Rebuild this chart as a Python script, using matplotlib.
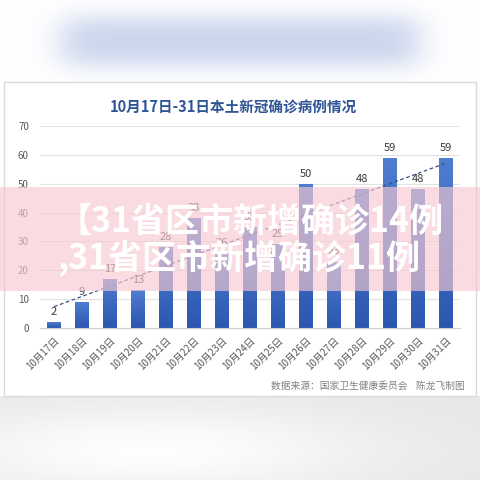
import numpy as np
import matplotlib.pyplot as plt
from matplotlib.patches import Rectangle
from matplotlib.colors import LinearSegmentedColormap

plt.rcParams['font.family'] = ['Noto Sans CJK SC', 'DejaVu Sans']

# data
dates = ['10月17日', '10月18日', '10月19日', '10月20日', '10月21日', '10月22日',
         '10月23日', '10月24日', '10月25日', '10月26日', '10月27日', '10月28日',
         '10月29日', '10月30日', '10月31日']
cases = [2, 9, 17, 13, 28, 38, 26, 35, 29, 50, 23, 48, 59, 48, 59]
yticks = [0, 10, 20, 30, 40, 50, 60, 70]
title = '10月17日-31日本土新冠确诊病例情况'
source = '数据来源：国家卫生健康委员会    陈龙飞制图'
banner_lines = ['【31省区市新增确诊14例', ',31省区市新增确诊11例']

W = H = 480
fig = plt.figure(figsize=(4.8, 4.8), dpi=100)

# screenshot background: blurred blue header, grey bottom
yy, xx = np.mgrid[0:H, 0:W]


def soft(v, a, b, s):
    return 1 / (1 + np.exp(-(v - a) / s)) / (1 + np.exp((v - b) / s))


bg = np.ones((H, W, 3))
blob = soft(xx, 62, 418, 10) * soft(yy, 18, 64, 7)
blue = np.array([200, 211, 236]) / 255
bg = bg * (1 - blob[..., None]) + blue * blob[..., None]
grey = 0.905 + 0.09 * np.exp(-((xx - 150) / 230) ** 2 - ((yy - 450) / 45) ** 2)
low = yy >= 396
bg[low] = grey[low][:, None]

bg_ax = fig.add_axes([0, 0, 1, 1])
bg_ax.imshow(bg, extent=[0, W, H, 0], interpolation='bilinear')
bg_ax.add_patch(Rectangle((4, 82), 472, 314, facecolor='white', edgecolor='#DADADA', lw=1))
bg_ax.set_xlim(0, W)
bg_ax.set_ylim(H, 0)
bg_ax.axis('off')

# chart
ax = fig.add_axes([40 / W, 1 - 328 / H, 420 / W, 202 / H])
ax.set_facecolor('none')
x = np.arange(len(cases))
bars = ax.bar(x, cases, width=0.5, color='#3A67C3', zorder=2)
cmap = LinearSegmentedColormap.from_list('bar', ['#2B57B0', '#4F7DD0'])
grad = np.linspace(1, 0, 100).reshape(-1, 1)
for b, xi, v in zip(bars, x, cases):
    im = ax.imshow(grad, extent=[xi - 0.25, xi + 0.25, 0, v], aspect='auto',
                   cmap=cmap, zorder=2.5)
    im.set_clip_path(b)
    ax.text(xi, v + 1.8, str(v), ha='center', va='bottom', fontsize=8,
            fontweight='medium', color='#3A3A3A', zorder=4)

# linear trend line (Excel style)
z = np.polyfit(x, cases, 1)
ax.plot(x, np.polyval(z, x), ls=(0, (3, 2)), color='#3A5285', lw=0.9, zorder=3)

ax.set_xlim(-0.5, len(cases) - 0.5)
ax.set_ylim(0, 70)
ax.set_yticks(yticks)
ax.set_xticks(x, dates, rotation=45, ha='right', va='top', rotation_mode='anchor')
ax.tick_params(axis='y', length=0, pad=8, labelsize=7, labelcolor='#595959')
ax.tick_params(axis='x', length=0, pad=5, labelsize=7, labelcolor='#595959')
ax.yaxis.grid(True, color='#E3E3E3', lw=0.8)
ax.set_axisbelow(True)
for s in ['top', 'right', 'left']:
    ax.spines[s].set_visible(False)
ax.spines['bottom'].set_color('#D0D0D0')

fig.text(233 / W, 1 - 108 / H, title, ha='center', va='center', fontsize=10.5,
         fontweight='bold', color='#2F5597')
fig.text(465 / W, 1 - 386 / H, source, ha='right', va='center', fontsize=7,
         color='#808080')

# pink overlay banner
fig.add_artist(Rectangle((0, 1 - 291 / H), 1, 104 / H, transform=fig.transFigure,
                         facecolor='#F7C9D1', alpha=0.65, lw=0, zorder=10))
fig.text(57 / W, 1 - 221 / H, banner_lines[0], ha='left', va='center', fontsize=24.5,
         fontweight='bold', color='white', zorder=11)
fig.text(57 / W, 1 - 258 / H, banner_lines[1], ha='left', va='center', fontsize=24.5,
         fontweight='bold', color='white', zorder=11)

fig.savefig('out.png', dpi=100)
